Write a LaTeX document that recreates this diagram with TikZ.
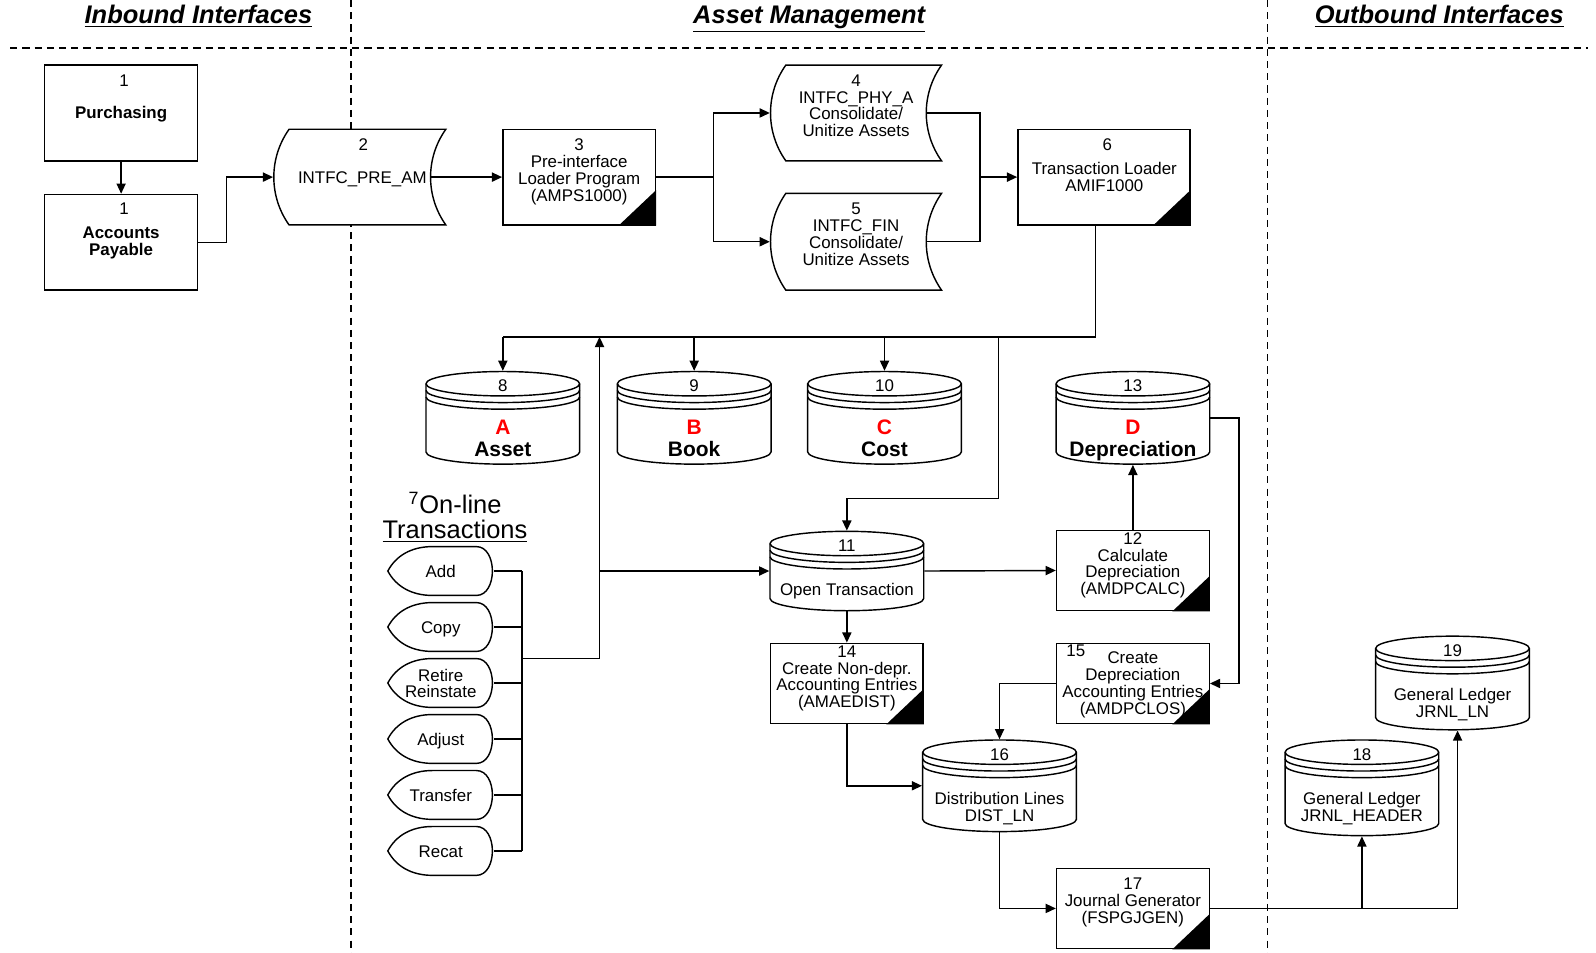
\documentclass[tikz,border=0pt]{standalone}
\usepackage{fontspec}
\setmainfont{Liberation Sans}
\usetikzlibrary{arrows.meta,calc}
\tikzset{
  txt/.style={font=\fontsize{8.3}{8.25}\selectfont, align=center, inner sep=0pt},
  stxt/.style={font=\fontsize{8.3}{8.25}\selectfont, inner sep=0pt, anchor=base},
  btxt/.style={font=\fontsize{8.3}{8.6}\selectfont\bfseries, align=center, inner sep=0pt},
  big/.style={inner sep=0pt, anchor=base, font=\fontsize{10.3}{12}\selectfont\bfseries},
  redbig/.style={big, text=red},
  hdr/.style={inner sep=0pt, anchor=base, font=\fontsize{12.5}{15}\selectfont\bfseries\itshape},
  arr/.style={-{Triangle[length=5pt,width=4.5pt]}},
  plainbox/.style={draw, fill=white, inner sep=0pt},
  ghost/.style={inner sep=0pt, draw=none},
  dashline/.style={dash pattern=on 3.5pt off 2.5pt},
}
\newcommand{\procnode}[5]{%
  \node[plainbox, minimum width=#4*0.5pt, minimum height=#5*0.5pt] (#1) at (#2,#3) {};
  \fill (#1.south east) -- ++(-37,0) -- ++(37,-35) -- cycle;
}
\newcommand{\dbcyl}[5]{%
  \pgfmathsetmacro{\cyL}{#2-#4/2}%
  \pgfmathsetmacro{\cyR}{#2+#4/2}%
  \pgfmathsetmacro{\cyT}{#3+12}%
  \pgfmathsetmacro{\cyB}{#3+#5-12}%
  \pgfmathsetmacro{\cyK}{0.5523*#4/2}%
  \node[ghost, minimum width=#4*0.5pt, minimum height=#5*0.5pt] (#1) at (#2,{#3+#5/2}) {};
  \draw[fill=white] (\cyL,\cyT) -- (\cyL,\cyB) .. controls (\cyL,{\cyB+6.6}) and ({#2-\cyK},{\cyB+12}) .. (#2,{\cyB+12}) .. controls ({#2+\cyK},{\cyB+12}) and (\cyR,{\cyB+6.6}) .. (\cyR,\cyB) -- (\cyR,\cyT) .. controls (\cyR,{\cyT-6.6}) and ({#2+\cyK},{\cyT-12}) .. (#2,{\cyT-12}) .. controls ({#2-\cyK},{\cyT-12}) and (\cyL,{\cyT-6.6}) .. (\cyL,\cyT) -- cycle;
  \foreach \dd in {0,6.5,13}{
    \draw (\cyL,{\cyT+\dd}) .. controls (\cyL,{\cyT+\dd+6.6}) and ({#2-\cyK},{\cyT+\dd+12}) .. (#2,{\cyT+\dd+12}) .. controls ({#2+\cyK},{\cyT+\dd+12}) and (\cyR,{\cyT+\dd+6.6}) .. (\cyR,{\cyT+\dd});
  }
}
\newcommand{\stdata}[5]{%
  \node[ghost, minimum width={(#4-15-#2)*0.5pt}, minimum height={(#5-#3)*0.5pt}] (#1) at ({(#2+#4-15)/2},{(#3+#5)/2}) {};
  \draw[fill=white] ({#2+15},#3) -- (#4,#3) .. controls ({#4-20},{#3+(#5-#3)*0.3}) and ({#4-20},{#5-(#5-#3)*0.3}) .. (#4,#5) -- ({#2+15},#5) .. controls ({#2-5},{#5-(#5-#3)*0.3}) and ({#2-5},{#3+(#5-#3)*0.3}) .. ({#2+15},#3) -- cycle;
}
\newcommand{\dispshape}[3]{%
  \node[ghost, minimum width=52pt, minimum height=24pt] (#1) at (433,#2) {};
  \draw[fill=white] (381,#2) .. controls (389,{#2-15}) and (404,{#2-24}) .. (425,{#2-24}) -- (468,{#2-24}) .. controls (489,{#2-24}) and (489,{#2+24}) .. (468,{#2+24}) -- (425,{#2+24}) .. controls (404,{#2+24}) and (389,{#2+15}) .. (381,#2) -- cycle;
  \node[stxt] (#1t) at (433,{#2+6}) {#3};
}
\begin{document}
\begin{tikzpicture}[x=0.5pt,y=-0.5pt,line width=0.7pt]
\useasboundingbox (0,0) rectangle (1568,936);
% swimlane separators
\draw[dashline] (10,47) -- (1560,47);
\draw[dashline] (345,0) -- (345,936);
\draw[dashline] (1245,0) -- (1245,936);
\node[hdr] (h1) at (195,23) {\underline{Inbound Interfaces}};
\node[hdr] (h2) at (795,23) {\underline{Asset Management}};
\node[hdr] (h3) at (1414,23) {\underline{Outbound Interfaces}};

% inbound
\node[plainbox, minimum width=75pt, minimum height=47pt] (p1) at (119,111) {};
\node[stxt] (p1n) at (122,85) {1};
\node[stxt, font=\fontsize{8.3}{8.6}\selectfont\bfseries] (p1t) at (119,116) {Purchasing};
\node[plainbox, minimum width=75pt, minimum height=47pt] (ap) at (119,238) {};
\node[stxt] (apn) at (122,211) {1};
\node[btxt] (apt) at (119,238.5) {Accounts\\Payable};

% stored data
\stdata{n2}{269}{127}{438}{221}
\node[stxt] (n2n) at (357,148) {2};
\node[stxt] (n2t) at (356,180) {INTFC\_PRE\_AM};
\stdata{n4}{757}{64}{925}{158}
\node[txt] (n4t) at (841,104) {4\\INTFC\_PHY\_A\\Consolidate/\\Unitize Assets};
\stdata{n5}{757}{190}{925}{285}
\node[txt] (n5t) at (841,230) {5\\INTFC\_FIN\\Consolidate/\\Unitize Assets};

% processes
\procnode{n3}{569}{174}{150}{94}
\node[txt] (n3t) at (569,169) {3\\Pre-interface\\Loader Program\\(AMPS1000)};
\procnode{n6}{1084.5}{174}{169}{94}
\node[stxt] (n6n) at (1088,148) {6};
\node[txt] (n6t) at (1085,173.5) {Transaction Loader\\AMIF1000};
\procnode{n12}{1113}{560.5}{150}{79}
\node[txt] (n12t) at (1113,555.5) {12\\Calculate\\Depreciation\\(AMDPCALC)};
\procnode{n14}{832}{671.5}{150}{79}
\node[txt] (n14t) at (832,666.5) {14\\Create Non-depr.\\Accounting Entries\\(AMAEDIST)};
\procnode{n15}{1113}{671.5}{150}{79}
\node[stxt] (n15n) at (1057,645) {15};
\node[txt] (n15t) at (1113,673) {Create\\Depreciation\\Accounting Entries\\(AMDPCLOS)};
\procnode{n17}{1113}{892.5}{150}{79}
\node[txt] (n17t) at (1113,886.5) {17\\Journal Generator\\(FSPGJGEN)};

% databases
\dbcyl{c8}{494}{365}{151}{91}
\node[stxt] (c8n) at (494,385) {8};
\node[redbig] (c8l) at (494,426.5) {A};
\node[big] (c8t) at (494,448.5) {Asset};
\dbcyl{c9}{682}{365}{151}{91}
\node[stxt] (c9n) at (682,385) {9};
\node[redbig] (c9l) at (682,426.5) {B};
\node[big] (c9t) at (682,448.5) {Book};
\dbcyl{c10}{869}{365}{151}{91}
\node[stxt] (c10n) at (869,385) {10};
\node[redbig] (c10l) at (869,426.5) {C};
\node[big] (c10t) at (869,448.5) {Cost};
\dbcyl{c13}{1113}{365}{151}{91}
\node[stxt] (c13n) at (1113,385) {13};
\node[redbig] (c13l) at (1113,426.5) {D};
\node[big] (c13t) at (1113,448.5) {Depreciation};
\dbcyl{c11}{832}{522}{151}{78}
\node[stxt] (c11n) at (832,542) {11};
\node[stxt] (c11t) at (832,585) {Open Transaction};
\dbcyl{c16}{982}{727}{151}{90}
\node[stxt] (c16n) at (982,747) {16};
\node[txt] (c16t) at (982,794.5) {Distribution Lines\\DIST\_LN};
\dbcyl{c18}{1338}{727}{151}{94}
\node[stxt] (c18n) at (1338,747) {18};
\node[txt] (c18t) at (1338,794.5) {General Ledger\\JRNL\_HEADER};
\dbcyl{c19}{1427}{625}{151}{92}
\node[stxt] (c19n) at (1427,645) {19};
\node[txt] (c19t) at (1427,692) {General Ledger\\JRNL\_LN};

% on-line transactions
\node[inner sep=0pt, font=\fontsize{12.5}{12.5}\selectfont, align=center] (ot) at (447,508.5) {\textsuperscript{7}On-line\\\underline{Transactions}};
\dispshape{o1}{561}{Add}
\dispshape{o2}{616}{Copy}
\node[ghost, minimum width=52pt, minimum height=24pt] (o3) at (433,671) {};
\draw[fill=white] (381,671) .. controls (389,656) and (404,647) .. (425,647) -- (468,647) .. controls (489,647) and (489,695) .. (468,695) -- (425,695) .. controls (404,695) and (389,686) .. (381,671) -- cycle;
\node[txt] (o3t) at (433,671.5) {Retire\\Reinstate};
\dispshape{o4}{726}{Adjust}
\dispshape{o5}{781}{Transfer}
\dispshape{o6}{836}{Recat}

% connectors
\draw[arr] (p1.south) -- (ap.north);
\draw[arr] (ap.east) -- ++(28,0) |- (n2.west);
\draw[arr] (n2.east) -- (n3.west);
\coordinate (sp3) at (701,174);
\draw (n3.east) -- (sp3);
\draw[arr] (sp3) |- (n4.west);
\draw[arr] (sp3) |- (n5.west);
\coordinate (j6) at (963,174);
\draw (n4.east) -| (j6);
\draw (n5.east) -| (j6);
\draw[arr] (j6) -- (n6.west);

\coordinate (hl) at (1076,331);
\draw (n6.south -| hl) -- (hl) -- (hl -| c8.north);
\draw[arr] (hl -| c8.north) -- (c8.north);
\draw[arr] (hl -| c9.north) -- (c9.north);
\draw[arr] (hl -| c10.north) -- (c10.north);
\coordinate (v11) at (981,490);
\draw[arr] (hl -| v11) -- (v11) -| (c11.north);

\coordinate (bus) at (513,647);
\foreach \o in {o1,o2,o3,o4,o5,o6}{\draw (\o.east) -- (\o.east -| bus);}
\draw (o1.east -| bus) -- (o6.east -| bus);
\coordinate (vx) at (589,647);
\draw[arr] (bus) -- (vx) -- (vx |- hl);
\draw[arr] (vx |- c11.west) -- (c11.west);

\draw[arr] (c11.east) -- (n12.west);
\draw[arr] (n12.north) -- (c13.south);
\draw[arr] (c13.east) -- ++(28,0) |- (n15.east);
\draw[arr] (c11.south) -- (n14.north);
\draw[arr] (n15.west) -| (c16.north);
\draw[arr] (n14.south) |- (c16.west);
\draw[arr] (c16.south) |- (n17.west);
\coordinate (r19) at (1432,892.5);
\draw[arr] (n17.east) -- (r19) -- (r19 |- c19.south);
\draw[arr] (n17.east -| c18.south) -- (c18.south);
\end{tikzpicture}
\end{document}
